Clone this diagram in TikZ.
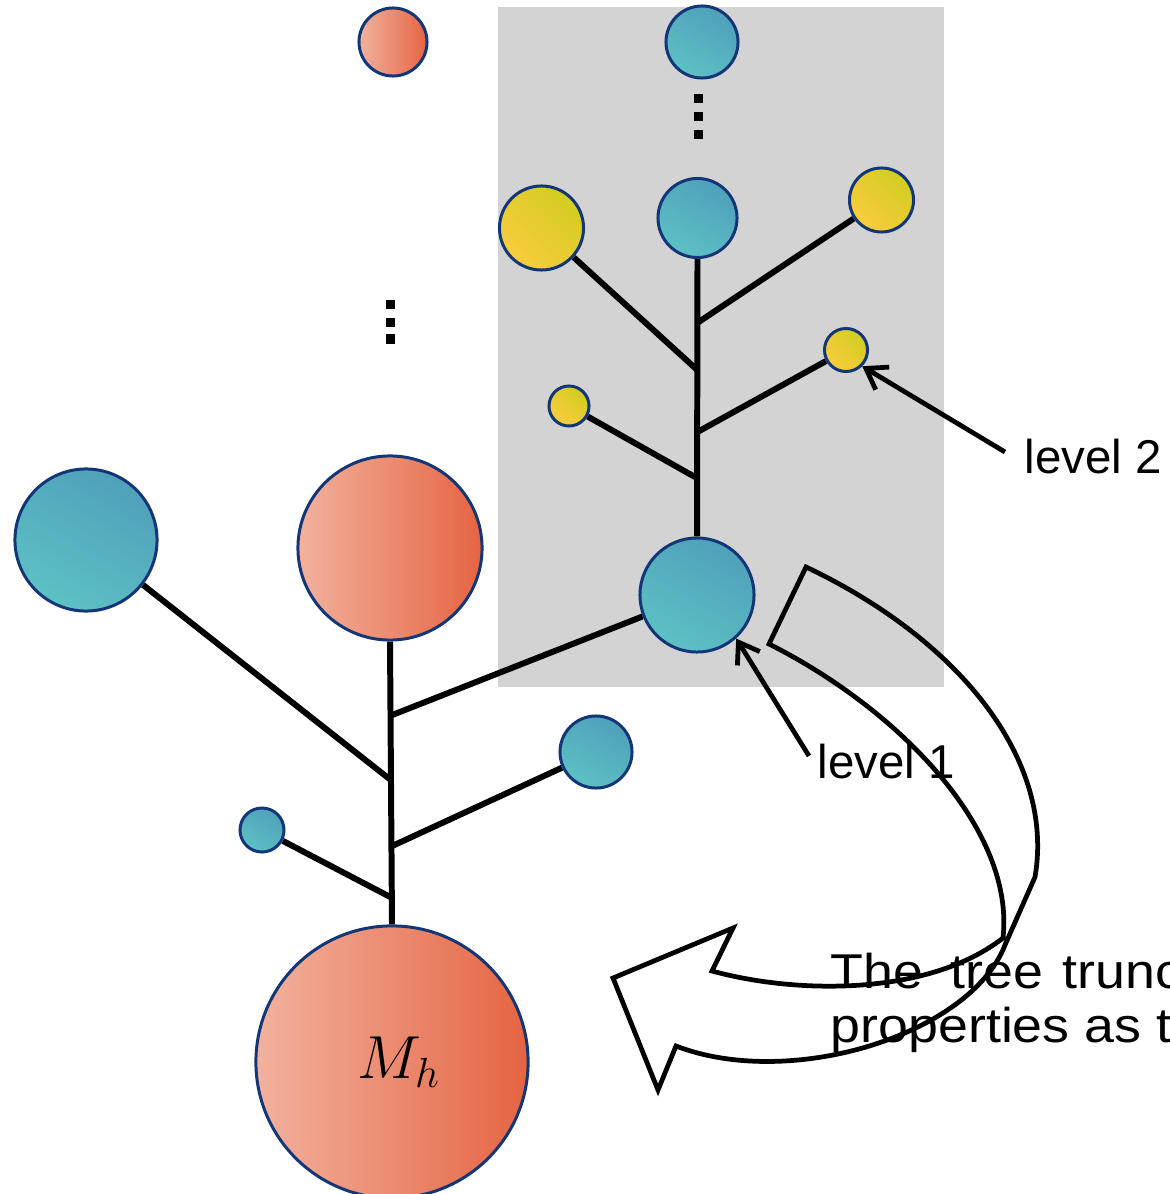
\documentclass[tikz,border=0pt]{standalone}
\usepackage{fontspec}
\setmainfont{Liberation Sans}
\usepackage{graphicx}
\usetikzlibrary{arrows.meta,calc,backgrounds}
\definecolor{navy}{RGB}{18,54,118}
\definecolor{boxgray}{RGB}{211,211,211}
\definecolor{salL}{RGB}{242,178,158}
\definecolor{salR}{RGB}{229,100,66}
\definecolor{tealT}{RGB}{80,160,186}
\definecolor{tealB}{RGB}{92,193,196}
\definecolor{yelT}{RGB}{210,205,32}
\definecolor{yelB}{RGB}{250,204,62}
\begin{document}
\begin{tikzpicture}[x=0.01cm,y=-0.01cm,
  ball/.style={circle,draw=navy,line width=0.85pt,inner sep=0pt,minimum size={#1*0.02cm}},
  salmonball/.style={ball=#1,left color=salL,right color=salR},
  tealball/.style={ball=#1,top color=tealT,bottom color=tealB,shading angle=-30},
  yellowball/.style={ball=#1,top color=yelT,bottom color=yelB,shading angle=-45},
  branch/.style={line width=1.7pt},
  dotsq/.style={rectangle,fill=black,inner sep=0pt,minimum size=0.09cm},
  pointer/.style={line width=1.35pt,-{Straight Barb[length=5.5pt,width=7.5pt]}},
  lbl/.style={font=\fontsize{13.5pt}{16pt}\selectfont,anchor=base west,inner sep=0pt},
  maintext/.style={font=\fontsize{13.9pt}{17pt}\selectfont,anchor=base west,inner sep=0pt},
  bigarrow/.style={line width=1.35pt,line join=miter}
]
\useasboundingbox (0,0) rectangle (1169,1194);
\clip (0,0) rectangle (1169,1194);

% circles (lower tree)
\node[salmonball=136,font=\fontsize{17pt}{20pt}\selectfont] (Mh) at (392,1062) {\hspace*{4pt}$M_h$};
\node[salmonball=92] (S1) at (390,548) {};
\node[tealball=71] (T1) at (86,540) {};
\node[tealball=36] (T2) at (596,752) {};
\node[tealball=22] (T3) at (262,830) {};
\node[salmonball=34] (S2) at (393,42) {};
% circles (upper tree, in box)
\node[tealball=57] (L1) at (697,595) {};
\node[tealball=39.5] (T4) at (697.5,218) {};
\node[tealball=36] (T5) at (702,42) {};
\node[yellowball=42] (Y1) at (541.5,228) {};
\node[yellowball=32] (Y2) at (881.5,200) {};
\node[yellowball=21.5] (Y3) at (846,350) {};
\node[yellowball=20] (Y4) at (569,406) {};

% dots
\node[dotsq] (da1) at (390.5,304.5) {};
\node[dotsq] (da2) at (390.5,322.5) {};
\node[dotsq] (da3) at (390.5,339) {};
\node[dotsq] (db1) at (698.5,98.5) {};
\node[dotsq] (db2) at (698.5,116.5) {};
\node[dotsq] (db3) at (698.5,134.5) {};

% joints
\coordinate (jd) at ($(Mh.north)!0.094!(S1.south)$);
\coordinate (jc) at ($(Mh.north)!0.276!(S1.south)$);
\coordinate (ja) at ($(Mh.north)!0.51!(S1.south)$);
\coordinate (jb) at ($(Mh.north)!0.738!(S1.south)$);
\coordinate (ka) at ($(L1.north)!0.21!(T4.south)$);
\coordinate (kb) at ($(L1.north)!0.376!(T4.south)$);
\coordinate (kc) at ($(L1.north)!0.60!(T4.south)$);
\coordinate (kd) at ($(L1.north)!0.77!(T4.south)$);

\begin{scope}[on background layer]
  \fill[boxgray] (498,7) rectangle (944,687);
  \draw[branch] (Mh.north) -- (S1.south);
  \draw[branch] (jd) -- (T3);
  \draw[branch] (jc) -- (T2);
  \draw[branch] (ja) -- (T1);
  \draw[branch] (jb) -- (L1);
  \draw[branch] (L1.north) -- (T4.south);
  \draw[branch] (ka) -- (Y4);
  \draw[branch] (kb) -- (Y3);
  \draw[branch] (kc) -- (Y1);
  \draw[branch] (kd) -- (Y2);
\end{scope}

% pointers and labels
\coordinate (c1) at (809,756);
\coordinate (c2) at (1005,452);
\draw[pointer] (c1) -- (L1.-48);
\draw[pointer] (c2) -- (Y3.-45);
\node[lbl] (lab1) at (817,778) {level 1};
\node[lbl] (lab2) at (1024,473) {level 2};

% big curved arrow
\draw[bigarrow] (806,567) .. controls (960,640) and (1055,760) .. (1035,877)
  -- (1005,945) .. controls (970,1035) and (790,1090) .. (676,1046)
  -- (658,1090) -- (613,978) -- (733,928) -- (712,971)
  .. controls (800,995) and (930,995) .. (1003,938)
  .. controls (1015,830) and (900,710) .. (769,644) -- cycle;

% text
\node[maintext] (t1) at (830,988) {\scalebox{1.1}[1]{The\hspace{7pt}tree\hspace{5pt}truncated}};
\node[maintext] (t2) at (830,1042) {\scalebox{1.1}[1]{properties as the}};
\end{tikzpicture}
\end{document}
